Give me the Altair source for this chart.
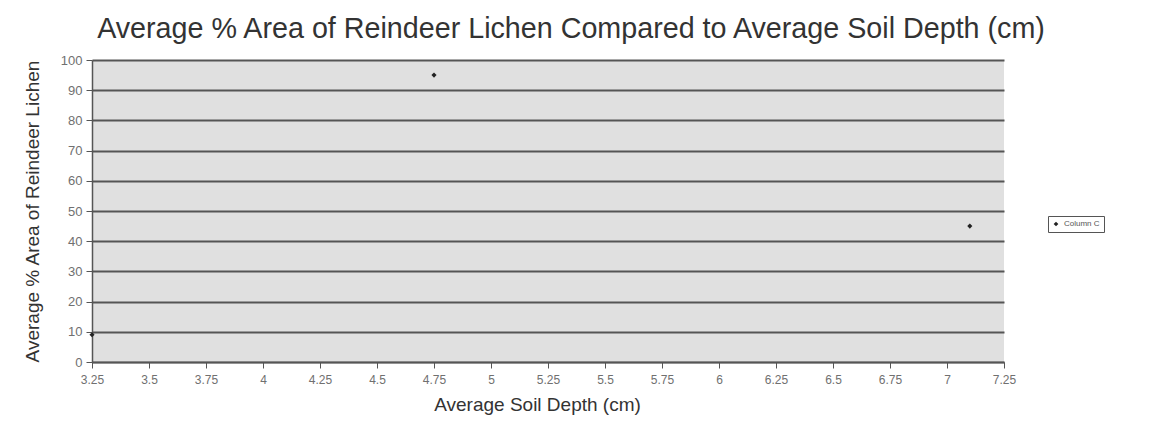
import altair as alt
import pandas as pd

soil_depth = [3.25, 4.75, 7.1]
lichen_pct = [9, 95, 45]
series = ["Column C", "Column C", "Column C"]
x_ticks = [3.25, 3.5, 3.75, 4, 4.25, 4.5, 4.75, 5, 5.25, 5.5, 5.75, 6, 6.25, 6.5, 6.75, 7, 7.25]
y_ticks = [0, 10, 20, 30, 40, 50, 60, 70, 80, 90, 100]

df = pd.DataFrame({"depth": soil_depth, "lichen": lichen_pct, "series": series})

FONT = "Liberation Sans"

chart = alt.Chart(df).mark_point(filled=True, shape="diamond", size=26, opacity=1).encode(
    x=alt.X("depth:Q", scale=alt.Scale(domain=[3.25, 7.25], nice=False, zero=False),
            axis=alt.Axis(values=x_ticks, title="Average Soil Depth (cm)", grid=False,
                          labelExpr="datum.value + ''", labelFlush=False,
                          labelFontSize=12, labelColor="#707070", labelPadding=6,
                          labelOverlap=False,
                          tickSize=6, tickColor="#555555", domainColor="#555555", domainWidth=1.5,
                          titleFontSize=19, titleFontWeight="normal", titleColor="#333333",
                          titlePadding=10, titleX=445)),
    y=alt.Y("lichen:Q", scale=alt.Scale(domain=[0, 100], nice=False),
            axis=alt.Axis(values=y_ticks, title="Average % Area of Reindeer Lichen", grid=True,
                          gridColor="#555555", gridWidth=2, labelFontSize=13, labelColor="#707070",
                          tickSize=6, tickColor="#555555", domainColor="#555555", domainWidth=1.5,
                          labelPadding=4, labelOverlap=False, labelFlush=False,
                          titleFontSize=19, titleFontWeight="normal", titleColor="#333333",
                          titlePadding=18)),
    color=alt.Color("series:N", scale=alt.Scale(range=["#222222"]),
                    legend=alt.Legend(title=None, orient="none", legendX=956, legendY=156,
                                      strokeColor="#555555", padding=4, symbolSize=22,
                                      symbolType="diamond", labelFontSize=8, labelColor="#555555",
                                      cornerRadius=0)),
).properties(
    width=912,
    height=302,
    title=alt.TitleParams("Average % Area of Reindeer Lichen Compared to Average Soil Depth (cm)",
                          fontSize=28.7, fontWeight="normal", color="#333333", font=FONT,
                          dx=23, offset=10),
    autosize=alt.AutoSizeParams(type="none"),
    padding={"left": 84, "top": 52, "right": 144, "bottom": 61},
).configure(font=FONT).configure_view(
    fill="#e0e0e0", stroke=None
).configure_axis(labelFont=FONT, titleFont=FONT).configure_legend(labelFont=FONT)

chart.save("out.html", embed_options={"renderer": "svg", "actions": False})
